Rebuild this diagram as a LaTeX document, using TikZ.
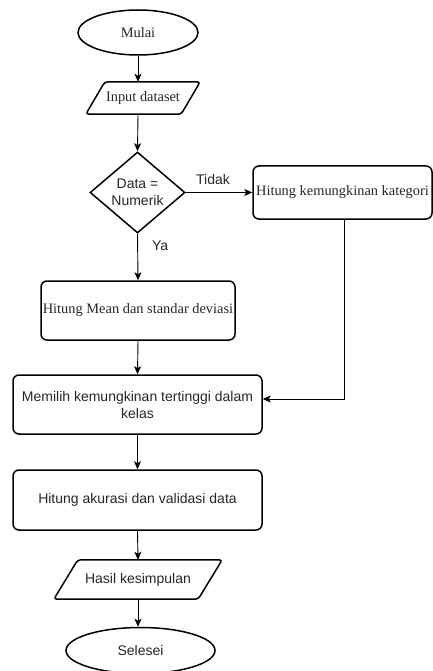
\documentclass[tikz,border=0pt]{standalone}
\usepackage{fontspec}
\setmainfont{Liberation Serif}
\newfontfamily\arialf{Liberation Sans}
\usetikzlibrary{shapes.geometric,arrows.meta}
\begin{document}
\begin{tikzpicture}[x=1pt,y=-1pt,
  serif/.style={font=\fontsize{14.4}{17}\selectfont, text=black!85},
  sans/.style={font=\arialf\fontsize{14}{17}\selectfont, text=black!85},
  shapeline/.style={draw=black, line width=1.5pt},
  box/.style={shapeline, rounded corners=6pt, inner sep=0pt, align=center},
  term/.style={shapeline, ellipse, inner sep=0pt},
  para/.style={inner sep=0pt},
  arr/.style={draw=black, line width=0.9pt, -{Stealth[length=8pt,width=7pt,inset=2pt]}},
  lbl/.style={sans, inner sep=0pt}
]
\useasboundingbox (0,0) rectangle (433,671);

\node[term, serif, minimum width=120pt, minimum height=45pt] (mulai) at (138,32.5) {Mulai};
\node[para, serif, minimum width=95pt, minimum height=32pt] (input) at (143,98) {Input dataset};
\draw[shapeline, rounded corners=3pt] ([xshift=9.5pt]input.north west) -- ([xshift=9.5pt]input.north east) -- ([xshift=-9.5pt]input.south east) -- ([xshift=-9.5pt]input.south west) -- cycle;
\node[diamond, shapeline, sans, align=center, minimum width=95pt, minimum height=81pt, inner sep=0pt] (dec) at (137.5,192.5) {Data =\\Numerik};
\node[box, serif, minimum width=179pt, minimum height=53pt] (kat) at (342.5,192.5) {Hitung kemungkinan kategori};
\node[box, serif, minimum width=194pt, minimum height=59pt] (mean) at (138,310.5) {Hitung Mean dan standar deviasi};
\node[box, sans, minimum width=249pt, minimum height=59pt] (pilih) at (137.5,404.5) {Memilih kemungkinan tertinggi dalam\\kelas};
\node[box, sans, minimum width=249pt, minimum height=60pt] (akur) at (137.5,500) {Hitung akurasi dan validasi data};
\node[para, sans, minimum width=144pt, minimum height=39pt] (hasil) at (138,579.5) {Hasil kesimpulan};
\draw[shapeline, rounded corners=3pt] ([xshift=12pt]hasil.north west) -- ([xshift=12pt]hasil.north east) -- ([xshift=-12pt]hasil.south east) -- ([xshift=-12pt]hasil.south west) -- cycle;
\node[term, sans, minimum width=149pt, minimum height=46pt] (selesai) at (140.5,650.5) {Selesei};

\draw[arr] (mulai.south) -- (mulai.south |- input.north);
\draw[arr] (mulai.south |- input.south) -- (dec.north);
\draw[arr] (dec.east) -- (kat.west) node[lbl, pos=0.41, above=7pt] {Tidak};
\draw[arr] (dec.south) -- (mean.north) node[lbl, pos=0.25, right=14pt] {Ya};
\draw[arr] (mean.south) -- (pilih.north);
\draw[arr] ([xshift=1.5pt]kat.south) |- ([yshift=5.5pt]pilih.east);
\draw[arr] (pilih.south) -- (akur.north);
\draw[arr] (akur.south) -- (hasil.north);
\draw[arr] (hasil.south) -- (hasil.south |- selesai.north);
\end{tikzpicture}
\end{document}
